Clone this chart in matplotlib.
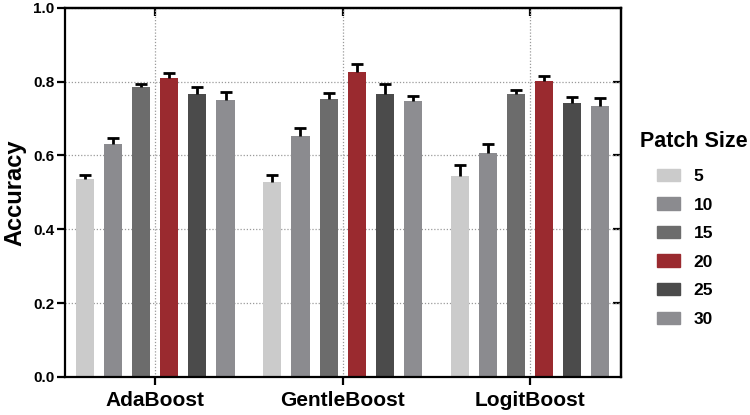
import matplotlib.pyplot as plt
import numpy as np
from matplotlib.patches import Patch

plt.rcParams.update({
    "font.family": ["Liberation Sans", "DejaVu Sans"],
    "font.weight": "bold",
})

classifiers = ["AdaBoost", "GentleBoost", "LogitBoost"]
patch_sizes = ["5", "10", "15", "20", "25", "30"]
colors = ["#cbcbcb", "#8b8b8f", "#6c6c6c", "#9a2a2f", "#4b4b4b", "#8d8d91"]

# accuracy per patch size, one entry per classifier
acc = [
    [0.537, 0.528, 0.544],   # 5
    [0.632, 0.654, 0.607],   # 10
    [0.785, 0.752, 0.767],   # 15
    [0.809, 0.825, 0.802],   # 20
    [0.767, 0.767, 0.742],   # 25
    [0.751, 0.747, 0.735],   # 30
]
err = [
    [0.011, 0.020, 0.029],
    [0.015, 0.020, 0.025],
    [0.009, 0.017, 0.011],
    [0.015, 0.022, 0.014],
    [0.018, 0.027, 0.016],
    [0.020, 0.014, 0.020],
]

fig = plt.figure(figsize=(7.5, 4.15), dpi=100)
ax = fig.add_axes([0.087, 0.092, 0.741, 0.889])

x = np.arange(len(classifiers))
pitch, width = 0.15, 0.097
for i, (lab, c) in enumerate(zip(patch_sizes, colors)):
    pos = x + (i - 2.5) * pitch
    e = err[i]
    bc = ax.bar(pos, acc[i], width, color=c, label=lab, zorder=2,
                yerr=[np.zeros(len(e)), e],
                error_kw=dict(ecolor="black", elinewidth=2, capsize=4.5, capthick=2, zorder=3))
    # one-sided error bars: drop the lower cap
    bc.errorbar.lines[1][0].set_visible(False)

ax.set_xlim(-0.48, 2.485)
ax.set_ylim(0, 1.0)
yt = [0, 0.2, 0.4, 0.6, 0.8, 1.0]
ax.set_yticks(yt)
ax.set_yticklabels([f"{v:.1f}" for v in yt], fontsize=11, fontweight="bold")
ax.set_xticks(x)
ax.set_xticklabels(classifiers, fontsize=15, fontweight="bold")
ax.set_ylabel("Accuracy", fontsize=17, fontweight="bold", labelpad=5)

ax.grid(True, linestyle=(0, (1, 1.5)), color="#9a9a9a", linewidth=0.9, zorder=0)
ax.set_axisbelow(True)

for s in ax.spines.values():
    s.set_linewidth(1.6)
ax.tick_params(direction="out", length=6, width=1.6)
ax.tick_params(axis="y", pad=2)
ax.tick_params(axis="x", pad=4)

# inward ticks on the top and right spines
top = ax.secondary_xaxis("top")
top.set_xticks(x)
top.tick_params(direction="in", length=6, width=1.6, labeltop=False)
right = ax.secondary_yaxis("right")
right.set_yticks(yt[1:-1])
right.tick_params(direction="in", length=6, width=1.6, labelright=False)
for sec in (top, right):
    for s in sec.spines.values():
        s.set_linewidth(1.6)

fig.text(0.853, 0.658, "Patch Size", fontsize=15.5, fontweight="bold", va="center", ha="left")
handles = [Patch(facecolor=c, edgecolor=c) for c in colors]
fig.legend(handles, patch_sizes, loc="upper left",
           bbox_to_anchor=(0.876, 0.593), frameon=False, borderaxespad=0, borderpad=0,
           prop=dict(size=12.5, weight="bold"), handlelength=1.35,
           handleheight=0.7, labelspacing=0.77, handletextpad=0.75)

fig.savefig("out.png", dpi=100)
